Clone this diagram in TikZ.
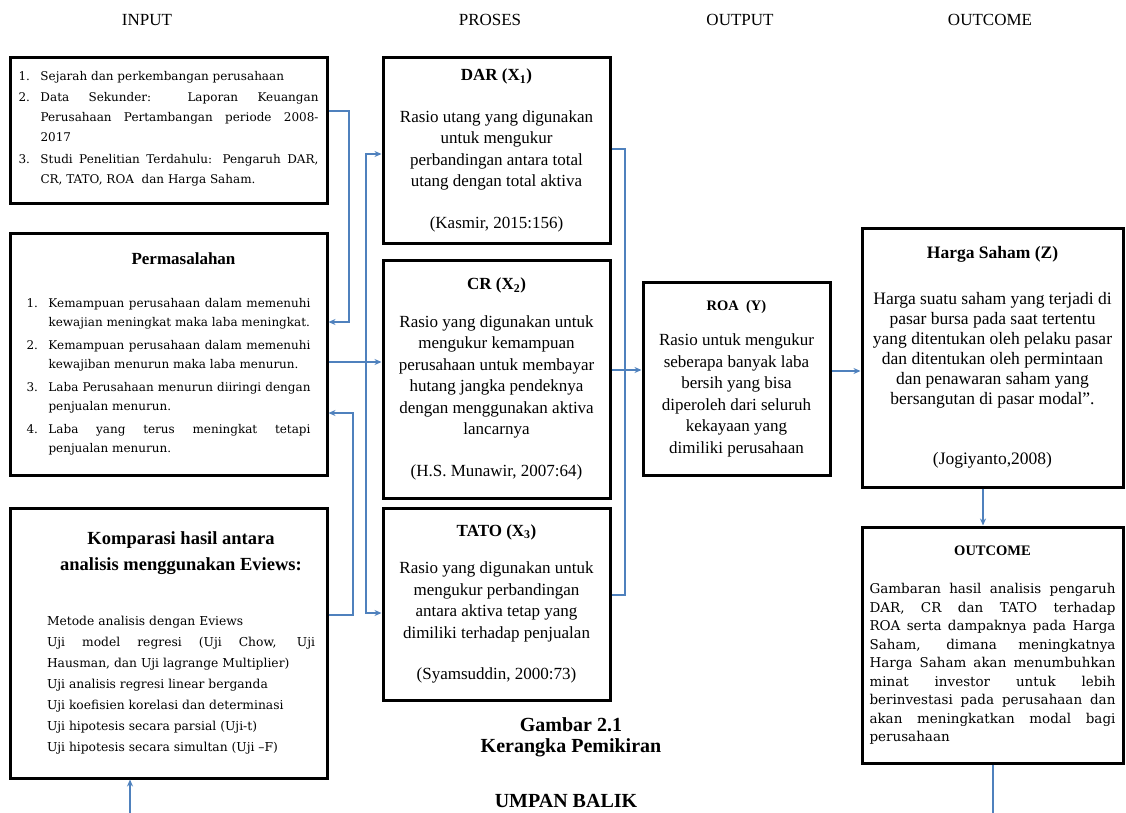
\documentclass[tikz,border=0pt]{standalone}
\usepackage{fontspec}
\setmainfont{Liberation Serif}
\newfontfamily\wideserif[Ligatures=TeX]{DejaVu Serif}
\usetikzlibrary{arrows.meta,positioning}
\definecolor{linkblue}{RGB}{79,129,189}
\setlength{\parindent}{0pt}
\hyphenpenalty=10000
\hbadness=10000
\newcommand{\butir}[2]{\par\hangindent=22pt\hangafter=1\makebox[22pt][l]{#1}#2\par}

\tikzset{
  box/.style={draw=black, line width=3pt, inner sep=0pt},
  link/.style={draw=linkblue, line width=1.3pt},
  header/.style={font=\fontsize{17}{20}\selectfont},
  caption/.style={font=\bfseries\fontsize{20}{24}\selectfont},
  isi/.style={font=\fontsize{17}{21.5}\selectfont, align=center},
}

\begin{document}
\begin{tikzpicture}[x=1pt,y=-1pt,>={Stealth[length=7pt,width=6pt]}]
\useasboundingbox (0,0) rectangle (1126,813);

% judul kolom
\node[header] (hInput) at (147,20) {INPUT};
\node[header] (hProses) at (490,20) {PROSES};
\node[header] (hOutput) at (740,20) {OUTPUT};
\node[header] (hOutcome) at (990,20) {OUTCOME};

% kolom input
\node[box, minimum width=317pt, minimum height=145pt, text width=300pt, align=justify] (inbox) at (168.5,130.5) {\vspace*{-16pt}\wideserif\fontsize{12}{20}\selectfont\parskip=1.5pt
  \butir{1.}{Sejarah dan perkembangan perusahaan}
  \butir{2.}{Data Sekunder: Laporan Keuangan Perusahaan Pertambangan periode 2008-2017}
  \butir{3.}{Studi Penelitian Terdahulu: Pengaruh DAR, CR, TATO, ROA\ \ dan Harga Saham.}};

\node[box, minimum width=317pt, minimum height=242pt, text width=284pt, align=justify] (masalah) at (168.5,354) {%
  {\leftskip=30pt plus 1fil\rightskip=0pt plus 1fil\parfillskip=0pt\bfseries\fontsize{17}{20}\selectfont Permasalahan\par}
  \vspace{20pt}
  \wideserif\fontsize{12}{19}\selectfont\parskip=4pt
  \butir{1.}{Kemampuan perusahaan dalam memenuhi kewajian meningkat maka laba meningkat.}
  \butir{2.}{Kemampuan perusahaan dalam memenuhi kewajiban menurun maka laba menurun.}
  \butir{3.}{Laba Perusahaan menurun diiringi dengan penjualan menurun.}
  \butir{4.}{Laba yang terus meningkat tetapi penjualan menurun.}};

\node[box, minimum width=317pt, minimum height=270pt, text width=293pt, align=justify] (komparasi) at (168.5,643) {%
  \leftskip=25pt
  {\leftskip=25pt plus 1fil\rightskip=0pt plus 1fil\parfillskip=0pt\bfseries\fontsize{18.5}{26}\selectfont Komparasi hasil antara\par analisis menggunakan Eviews:\par}
  \vspace{34pt}
  \wideserif\fontsize{12.3}{21}\selectfont
  Metode\ analisis\ dengan Eviews\par
  Uji model regresi (Uji Chow, Uji\linebreak Hausman, dan Uji lagrange Multiplier)\par
  Uji analisis regresi linear berganda\par
  Uji koefisien korelasi dan determinasi\par
  Uji hipotesis\ secara parsial (Uji-t)\par
  Uji hipotesis\ secara simultan (Uji –F)\par};

% kolom proses
\node[box, isi, minimum width=227pt, minimum height=185pt] (dar) at (496.5,150.5) {%
  {\bfseries DAR (X\textsubscript{1})}\\[20pt]
  Rasio utang yang digunakan\\ untuk mengukur\\ perbandingan antara total\\ utang dengan total aktiva\\[20pt]
  (Kasmir, 2015:156)};

\node[box, isi, minimum width=227pt, minimum height=238pt] (cr) at (496.5,379) {%
  {\bfseries CR (X\textsubscript{2})}\\[16pt]
  Rasio yang digunakan untuk\\ mengukur kemampuan\\ perusahaan untuk membayar\\ hutang jangka pendeknya\\ dengan menggunakan aktiva\\ lancarnya\\[20pt]
  (H.S. Munawir, 2007:64)};

\node[box, isi, minimum width=227pt, minimum height=192pt] (tato) at (496.5,604) {%
  {\bfseries TATO (X\textsubscript{3})}\\[16pt]
  Rasio yang digunakan untuk\\ mengukur perbandingan\\ antara aktiva tetap yang\\ dimiliki terhadap penjualan\\[20pt]
  (Syamsuddin, 2000:73)};

% kolom output
\node[box, isi, minimum width=187pt, minimum height=193pt] (roa) at (736.5,378.5) {%
  {\bfseries\fontsize{14.5}{17}\selectfont ROA\ \ (Y)}\\[14pt]
  Rasio untuk mengukur\\ seberapa banyak laba\\ bersih yang bisa\\ diperoleh dari seluruh\\ kekayaan yang\\ dimiliki perusahaan};

% kolom outcome
\node[box, isi, font=\fontsize{17.5}{20}\selectfont, minimum width=261pt, minimum height=259pt] (saham) at (992.5,357.5) {%
  {\bfseries Harga Saham (Z)}\\[26pt]
  Harga suatu saham yang terjadi di\\ pasar bursa pada saat tertentu\\ yang ditentukan oleh pelaku pasar\\ dan ditentukan oleh permintaan\\ dan penawaran saham yang\\ bersangutan di pasar modal”.\\[40pt]
  (Jogiyanto,2008)};

\node[box, minimum width=261pt, minimum height=236pt, text width=246pt, align=justify] (outcome) at (992.5,645) {%
  {\leftskip=0pt plus 1fil\rightskip=0pt plus 1fil\parfillskip=0pt\bfseries\fontsize{14.5}{17}\selectfont OUTCOME\par}
  \vspace{20pt}
  \wideserif\fontsize{13.5}{18.5}\selectfont
  Gambaran hasil analisis pengaruh\linebreak DAR, CR dan TATO terhadap\linebreak ROA serta dampaknya pada Harga\linebreak Saham, dimana meningkatnya\linebreak Harga Saham akan menumbuhkan\linebreak minat investor untuk lebih\linebreak berinvestasi pada perusahaan dan\linebreak akan meningkatkan modal bagi\linebreak perusahaan\par};

% keterangan
\node[caption] (capNum) at (571,725) {Gambar 2.1};
\node[caption] (capTitle) at (571,748) {Kerangka Pemikiran};
\node[caption] (umpan) at (566,801) {UMPAN BALIK};

% titik belok
\coordinate (inR) at (349,111);
\coordinate (inD) at (349,322);
\coordinate (split) at (366,362);
\coordinate (darIn) at (366,154);
\coordinate (tatoIn) at (366,613);
\coordinate (kmR) at (353,615);
\coordinate (kmU) at (353,413);
\coordinate (darOut) at (625,149);
\coordinate (tatoOut) at (625,595);
\coordinate (crOut) at (625,370);
\coordinate (roaOut) at (846,371);
\coordinate (sahamX) at (983,0);
\coordinate (fbRight) at (993,813);
\coordinate (fbLeft) at (130,813);

% panah
\draw[link,->] (inbox.east |- inR) -- (inR) -- (inD) -- (masalah.east |- inD);
\draw[link,->] (masalah.east |- split) -- (cr.west |- split);
\draw[link,->] (split) -- (darIn) -- (dar.west |- darIn);
\draw[link,->] (split) -- (tatoIn) -- (tato.west |- tatoIn);
\draw[link,->] (komparasi.east |- kmR) -- (kmR) -- (kmU) -- (masalah.east |- kmU);
\draw[link] (dar.east |- darOut) -- (darOut) -- (tatoOut) -- (tato.east |- tatoOut);
\draw[link,->] (cr.east |- crOut) -- (roa.west |- crOut);
\draw[link,->] (roa.east |- roaOut) -- (saham.west |- roaOut);
\draw[link,->] (saham.south -| sahamX) -- (outcome.north -| sahamX);
\draw[link] (outcome.south -| fbRight) -- (fbRight);
\draw[link,->] (fbLeft) -- (komparasi.south -| fbLeft);
\end{tikzpicture}
\end{document}
